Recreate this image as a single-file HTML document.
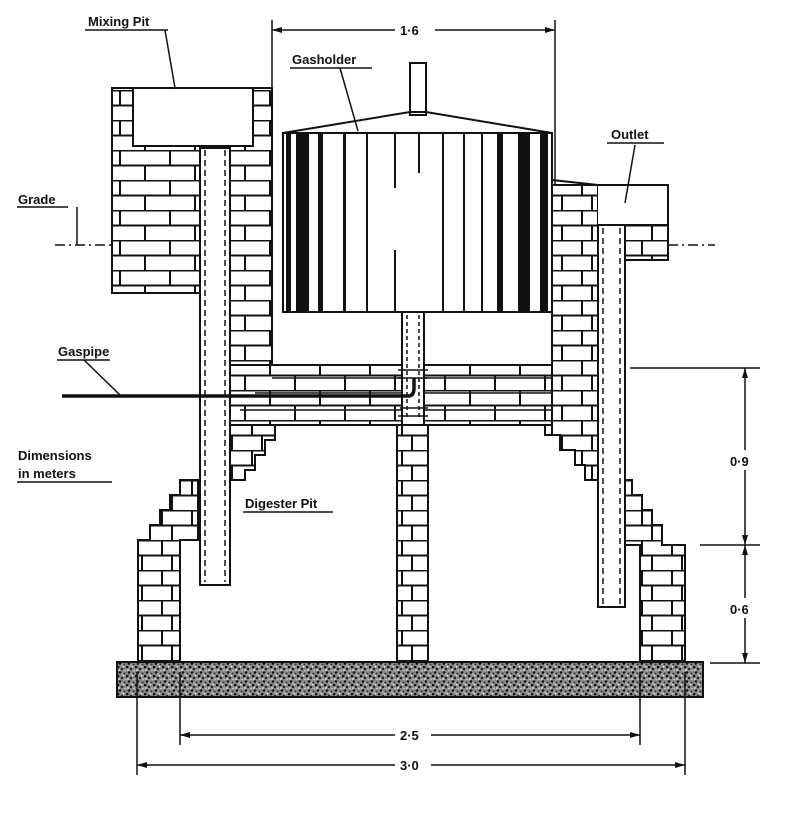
<!DOCTYPE html>
<html><head><meta charset="utf-8"><style>
html,body{margin:0;padding:0;background:#fff;}
svg{display:block;}
text{font-family:"Liberation Sans",sans-serif;font-weight:bold;fill:#111;}
</style></head><body>
<svg width="790" height="813" viewBox="0 0 790 813" xmlns="http://www.w3.org/2000/svg">
<defs>
<pattern id="brick" width="50" height="30" patternUnits="userSpaceOnUse">
<rect width="50" height="30" fill="#fff"/>
<path d="M0 0.5H50M0 15.5H50M20 0V15M45 15V30" stroke="#111" stroke-width="2"/>
</pattern>
<pattern id="brickS" width="30" height="30" patternUnits="userSpaceOnUse">
<rect width="30" height="30" fill="#fff"/>
<path d="M0 0.5H30M0 15.5H30M12 0V15M22 15V30" stroke="#111" stroke-width="2"/>
</pattern>
<pattern id="speck" width="9" height="9" patternUnits="userSpaceOnUse">
<rect width="9" height="9" fill="#8a8a8a"/>
<circle cx="1" cy="1" r="1.4" fill="#111"/><circle cx="5" cy="3" r="1.2" fill="#222"/>
<circle cx="3" cy="6.5" r="1.3" fill="#111"/><circle cx="7.5" cy="7.5" r="1" fill="#333"/>
<circle cx="6.5" cy="0.5" r="0.9" fill="#eee"/><circle cx="2" cy="4" r="0.9" fill="#eee"/>
<circle cx="8" cy="4.5" r="0.7" fill="#ddd"/><circle cx="5" cy="8" r="0.6" fill="#eee"/>
</pattern>
</defs>
<g stroke="#111" stroke-width="2" fill="none">
<path d="M112 88H272V365H230V148H200V293H112Z" fill="url(#brick)"/>
<rect x="133" y="88" width="120" height="58" fill="#fff"/>
<rect x="200" y="148" width="30" height="437" fill="#fff"/>
<path d="M205 150V582M225 150V582" stroke-dasharray="6 4" stroke-width="1.5"/>
<path d="M230 365H598V425H230Z" fill="url(#brick)"/>
<path d="M272 378H560M255 393H580M240 410H598" stroke-width="1.5"/>
<path d="M230 425H275V440H265V455H255V470H245V480H230Z" fill="url(#brickS)"/>
<path d="M198 480V540H180V662H138V540H150V525H160V510H170V495H180V480Z" fill="url(#brickS)"/>
<path d="M552 185H598V480H585V465H575V450H560V435H545V425H552Z" fill="url(#brickS)"/>
<rect x="598" y="225" width="27" height="382" fill="#fff"/>
<path d="M603 228V604M620 228V604" stroke-dasharray="6 4" stroke-width="1.5"/>
<path d="M598 185H668V225H598" fill="#fff"/>
<path d="M625 225H668V260H625Z" fill="url(#brickS)"/>
<path d="M552 180L598 185"/>
<path d="M625 480H632V495H642V510H652V525H662V545H685V662H640V545H625Z" fill="url(#brickS)"/>
<rect x="397" y="425" width="31" height="237" fill="url(#brickS)"/>
<rect x="402" y="312" width="22" height="113" fill="#fff"/>
<path d="M407 315V420M419 315V420" stroke-dasharray="4 3" stroke-width="1.5"/>
<path d="M398 370H428M398 378H428M400 408H428M398 416H428" stroke-width="1.5"/>
<path d="M62 396H408Q414 396 414 388V378" stroke-width="3.5"/>
<rect x="410" y="63" width="16" height="52" fill="#fff"/>
<path d="M283 133L410 112H426L552 133" />
<rect x="283" y="133" width="269" height="179" fill="#fff"/>
</g>
<g fill="#111">
<rect x="286" y="133" width="5" height="179"/><rect x="296" y="133" width="13" height="179"/>
<rect x="318" y="133" width="5" height="179"/><rect x="343" y="133" width="3" height="179"/>
<rect x="366" y="133" width="2" height="179"/><rect x="442" y="133" width="2" height="179"/>
<rect x="463" y="133" width="2" height="179"/><rect x="481" y="133" width="2" height="179"/>
<rect x="497" y="133" width="6" height="179"/><rect x="518" y="133" width="12" height="179"/>
<rect x="540" y="133" width="8" height="179"/>
<rect x="394" y="133" width="2" height="55"/><rect x="394" y="250" width="2" height="62"/>
<rect x="418" y="133" width="2" height="40"/>
</g>
<rect x="117" y="662" width="586" height="35" fill="url(#speck)" stroke="#111" stroke-width="2"/>
<g stroke="#111" stroke-width="1.5" fill="none">
<path d="M55 245H112" stroke-dasharray="10 4 2 4"/>
<path d="M668 245H715" stroke-dasharray="10 4 2 4"/>
<path d="M272 20V175M555 20V185"/>
<path d="M272 30H555"/>
<path d="M630 368H760M700 545H760M710 663H760M745 368V663"/>
<path d="M180 672V745M640 672V745M137 672V775M685 672V775"/>
<path d="M180 735H640M137 765H685"/>
<path d="M165 30L175 88M340 68L358 131M635 145L625 203M77 207L77 245M84 360L120 395"/>
<path d="M85 30H168M290 68H372M607 143H664M17 207H68M57 360H110M17 482H112M243 512H333"/>
</g>
<g fill="#111">
<path d="M272 30l10 -3v6zM555 30l-10 -3v6zM180 735l10 -3v6zM640 735l-10 -3v6zM137 765l10 -3v6zM685 765l-10 -3v6zM745 368l-3 10h6zM745 545l-3 -10h6zM745 545l-3 10h6zM745 663l-3 -10h6z"/>
</g>
<g font-size="13">
<rect x="395" y="22" width="40" height="16" fill="#fff"/><text x="400" y="35">1·6</text>
<rect x="728" y="450" width="34" height="20" fill="#fff"/><text x="730" y="466">0·9</text>
<rect x="728" y="598" width="34" height="20" fill="#fff"/><text x="730" y="614">0·6</text>
<rect x="395" y="727" width="36" height="16" fill="#fff"/><text x="400" y="740">2·5</text>
<rect x="395" y="757" width="36" height="16" fill="#fff"/><text x="400" y="770">3·0</text>
<text x="88" y="26">Mixing Pit</text>
<text x="292" y="64">Gasholder</text>
<text x="611" y="139">Outlet</text>
<text x="18" y="204">Grade</text>
<text x="58" y="356">Gaspipe</text>
<text x="18" y="460">Dimensions</text>
<text x="18" y="478">in meters</text>
<text x="245" y="508">Digester Pit</text>
</g>
</svg>
</body></html>
